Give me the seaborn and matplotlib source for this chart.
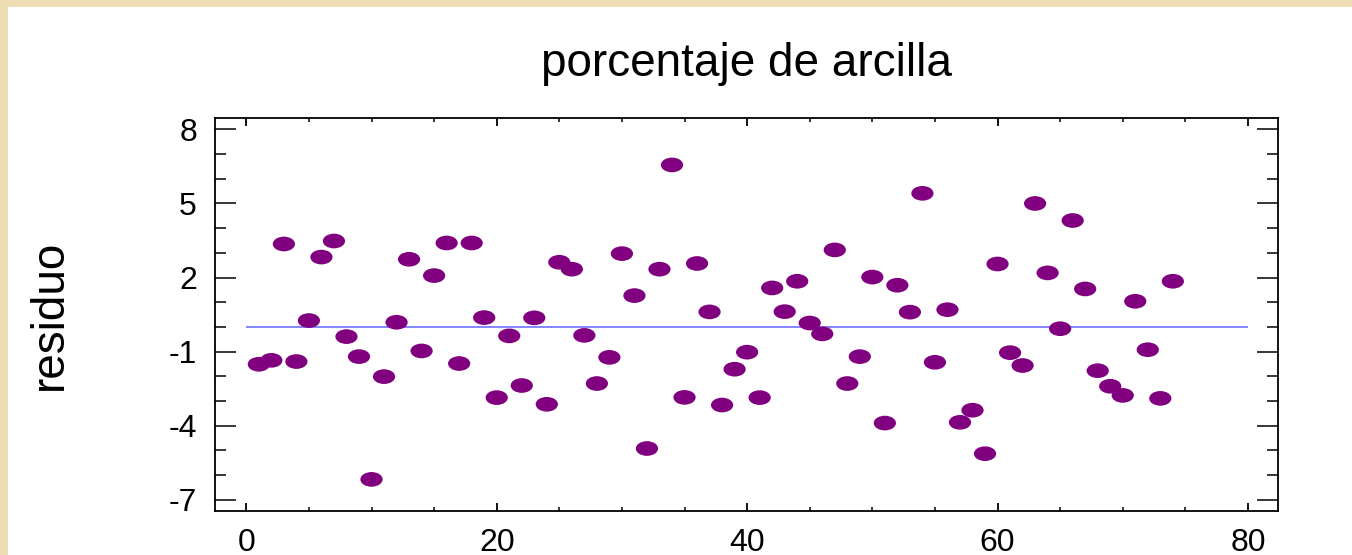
import matplotlib
matplotlib.use('Agg')
import matplotlib.pyplot as plt
import pandas as pd
import seaborn as sns
from matplotlib.path import Path
from matplotlib.transforms import Affine2D
from matplotlib.patches import Rectangle
from matplotlib.ticker import FixedLocator, MultipleLocator

# Residuos por observacion
residuo = [-1.51, -1.35, 3.36, -1.40, 0.26, 2.83, 3.48, -0.39, -1.20, -6.17,
           -2.01, 0.19, 2.74, -0.97, 2.08, 3.40, -1.48, 3.40, 0.38, -2.86,
           -0.36, -2.37, 0.37, -3.13, 2.62, 2.34, -0.34, -2.29, -1.23, 2.97,
           1.27, -4.92, 2.34, 6.56, -2.85, 2.57, 0.61, -3.16, -1.71, -1.02,
           -2.86, 1.58, 0.62, 1.85, 0.16, -0.28, 3.12, -2.29, -1.20, 2.02,
           -3.89, 1.69, 0.60, 5.41, -1.43, 0.70, -3.86, -3.37, -5.13, 2.55,
           -1.04, -1.56, 5.00, 2.19, -0.07, 4.31, 1.54, -1.77, -2.40, -2.77,
           1.04, -0.92, -2.89, 1.85]
obs = list(range(1, len(residuo) + 1))

y_ticks = [8, 5, 2, -1, -4, -7]
x_ticks = [0, 20, 40, 60, 80]
linea_cero = 0
linea_desde, linea_hasta = 0, 80

df = pd.DataFrame({'obs': obs, 'residuo': residuo})

sns.set_style('ticks')
plt.rcParams['font.family'] = ['Liberation Sans', 'DejaVu Sans']
plt.rcParams['axes.unicode_minus'] = False
plt.rcParams['text.color'] = 'black'
plt.rcParams['axes.labelcolor'] = 'black'

fig = plt.figure(figsize=(13.52, 5.55), dpi=100)
fig.patch.set_facecolor('#eedcb2')
# panel blanco sobre el fondo tipo pergamino
fig.patches.append(Rectangle((8 / 1352, 0), 1, 1 - 7 / 555, transform=fig.transFigure,
                             facecolor='white', edgecolor='none', zorder=-10))

ax = fig.add_axes([215 / 1352, 44 / 555, 1063 / 1352, 393 / 555])
ax.set_zorder(5)
ax.set_facecolor('white')

# marcador eliptico como en el original
elipse = Path.unit_circle().transformed(Affine2D().scale(1.0, 0.66))

ax.hlines(linea_cero, linea_desde, linea_hasta, color='#6f6fff', linewidth=1.2, zorder=1)
sns.scatterplot(data=df, x='obs', y='residuo', ax=ax, marker=elipse, s=16 ** 2,
                color='#800080', edgecolor='none', linewidth=0, zorder=2)

ax.set_xlim(-2.5, 82.4)
ax.set_ylim(-7.45, 8.46)
ax.xaxis.set_major_locator(FixedLocator(x_ticks))
ax.xaxis.set_minor_locator(MultipleLocator(5))
ax.yaxis.set_major_locator(FixedLocator(y_ticks))
ax.yaxis.set_minor_locator(MultipleLocator(1))

ax.tick_params(axis='both', which='both', direction='in', top=True, right=True,
               labelsize=23, colors='black')
ax.tick_params(axis='y', which='major', length=15, width=1.1, pad=13)
ax.tick_params(axis='y', which='minor', length=8, width=1.1)
ax.tick_params(axis='x', which='major', length=6, width=1.3, pad=12)
ax.tick_params(axis='x', which='minor', length=3, width=1.1)
for sp in ax.spines.values():
    sp.set_linewidth(1.3)
    sp.set_color('black')

ax.set_title('porcentaje de arcilla', fontsize=33, pad=30, color='black')
ax.set_xlabel('')
ax.set_ylabel('residuo', fontsize=33)
ax.yaxis.set_label_coords(-0.135, 0.5)

fig.savefig('out.png', dpi=100, facecolor=fig.get_facecolor())
